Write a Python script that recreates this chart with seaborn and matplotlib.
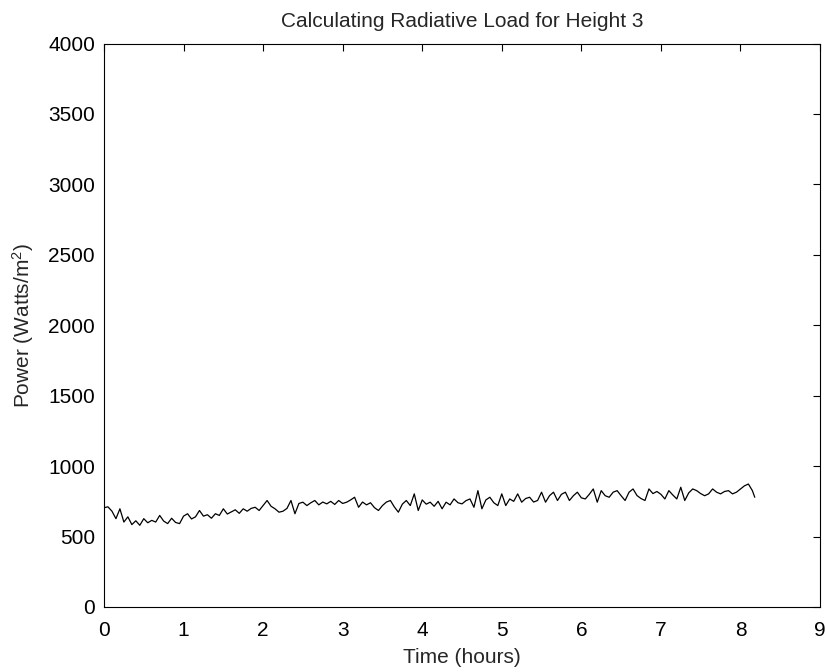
import matplotlib
matplotlib.use("Agg")
import matplotlib.pyplot as plt
import seaborn as sns
import pandas as pd

time_hours = [0.00, 0.05, 0.10, 0.15, 0.20, 0.25, 0.30, 0.35, 0.40, 0.45, 0.50, 0.55, 0.60, 0.65,
              0.70, 0.75, 0.80, 0.85, 0.90, 0.95, 1.00, 1.05, 1.10, 1.15, 1.20, 1.25, 1.30, 1.35,
              1.40, 1.45, 1.50, 1.55, 1.60, 1.65, 1.70, 1.75, 1.80, 1.85, 1.90, 1.95, 2.00, 2.05,
              2.10, 2.15, 2.20, 2.25, 2.30, 2.35, 2.40, 2.45, 2.50, 2.55, 2.60, 2.65, 2.70, 2.75,
              2.80, 2.85, 2.90, 2.95, 3.00, 3.05, 3.10, 3.15, 3.20, 3.25, 3.30, 3.35, 3.40, 3.45,
              3.50, 3.55, 3.60, 3.65, 3.70, 3.75, 3.80, 3.85, 3.90, 3.95, 4.00, 4.05, 4.10, 4.15,
              4.20, 4.25, 4.30, 4.35, 4.40, 4.45, 4.50, 4.55, 4.60, 4.65, 4.70, 4.75, 4.80, 4.85,
              4.90, 4.95, 5.00, 5.05, 5.10, 5.15, 5.20, 5.25, 5.30, 5.35, 5.40, 5.45, 5.50, 5.55,
              5.60, 5.65, 5.70, 5.75, 5.80, 5.85, 5.90, 5.95, 6.00, 6.05, 6.10, 6.15, 6.20, 6.25,
              6.30, 6.35, 6.40, 6.45, 6.50, 6.55, 6.60, 6.65, 6.70, 6.75, 6.80, 6.85, 6.90, 6.95,
              7.00, 7.05, 7.10, 7.15, 7.20, 7.25, 7.30, 7.35, 7.40, 7.45, 7.50, 7.55, 7.60, 7.65,
              7.70, 7.75, 7.80, 7.85, 7.90, 7.95, 8.00, 8.05, 8.10, 8.15, 8.18]
power_watts = [705, 711, 680, 627, 697, 603, 640, 585, 612, 580, 627, 598, 615, 603,
               650, 610, 592, 630, 600, 592, 645, 662, 625, 640, 685, 645, 655, 630,
               662, 650, 697, 660, 675, 690, 665, 697, 680, 700, 708, 685, 720, 756,
               715, 697, 673, 680, 700, 756, 662, 735, 744, 720, 740, 756, 725, 745,
               732, 750, 728, 756, 735, 744, 760, 779, 708, 745, 725, 740, 705, 685,
               720, 745, 756, 710, 673, 730, 756, 720, 803, 685, 760, 730, 744, 715,
               750, 697, 744, 725, 767, 740, 732, 755, 767, 708, 826, 697, 760, 779,
               740, 720, 803, 720, 767, 750, 803, 744, 770, 779, 745, 756, 815, 744,
               790, 815, 756, 800, 815, 756, 790, 815, 775, 767, 800, 838, 744, 826,
               790, 779, 815, 826, 790, 756, 815, 838, 791, 770, 756, 838, 805, 820,
               800, 767, 826, 795, 767, 850, 756, 810, 838, 826, 805, 790, 803, 838,
               815, 803, 820, 826, 803, 815, 838, 860, 873, 826, 779]

x_ticks = [0, 1, 2, 3, 4, 5, 6, 7, 8, 9]
y_ticks = [0, 500, 1000, 1500, 2000, 2500, 3000, 3500, 4000]

df = pd.DataFrame({"Time (hours)": time_hours, "Power": power_watts})

sns.set_style("white")
plt.rcParams["font.family"] = ["Liberation Sans", "DejaVu Sans"]
plt.rcParams["mathtext.fontset"] = "custom"
plt.rcParams["mathtext.rm"] = "Liberation Sans"
plt.rcParams["mathtext.it"] = "Liberation Sans"

fig = plt.figure(figsize=(8.25, 6.72), dpi=100)
ax = fig.add_axes([104/825, 1 - 607/672, (820 - 104)/825, (607 - 43.5)/672])

sns.lineplot(data=df, x="Time (hours)", y="Power", ax=ax, color="black",
             linewidth=0.9, estimator=None, sort=False)

ax.set_xlim(0, 9)
ax.set_ylim(0, 4000)
ax.set_xticks(x_ticks)
ax.set_yticks(y_ticks)
ax.tick_params(direction="in", top=True, right=True, length=5, width=0.8,
               labelsize=15, colors="black")
ax.tick_params(axis="y", pad=6.5)
ax.tick_params(axis="x", pad=10)
for s in ax.spines.values():
    s.set_visible(True)
    s.set_color("black")
    s.set_linewidth(0.8)

ax.set_xlabel("Time (hours)", fontsize=15, labelpad=6)
ax.set_ylabel(r"Power (Watts/m$^2$)", fontsize=15, labelpad=9)
ax.set_title("Calculating Radiative Load for Height 3", fontsize=15, pad=12)

fig.savefig("out.png", dpi=100)
